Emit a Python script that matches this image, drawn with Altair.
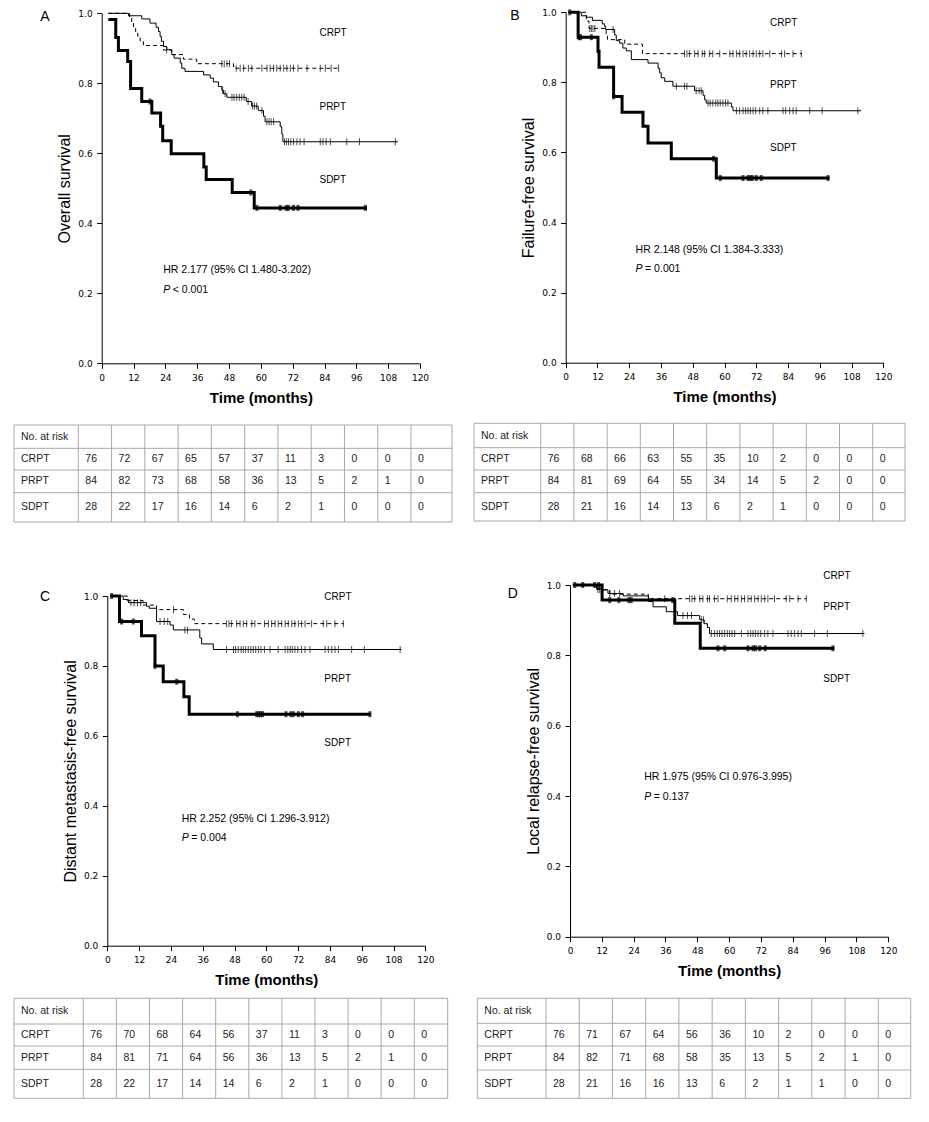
import altair as alt
import pandas as pd

# ------------------------------------------------------------------ data
XT = list(range(0, 121, 12))
YT = [0.0, 0.2, 0.4, 0.6, 0.8, 1.0]
GROUPS = ["CRPT", "PRPT", "SDPT"]
RISK_HEADER = "No. at risk"

# Panel A - Overall survival  (month, survival)
A_CRPT = [(2.5, 1.0), (10.5, 0.987), (11.3, 0.974), (12.0, 0.961), (12.8, 0.947), (13.6, 0.934),
          (14.5, 0.921), (15.7, 0.908), (23.3, 0.895), (26.4, 0.882), (30.8, 0.869), (35.8, 0.856),
          (49.7, 0.843), (89.3, 0.843)]
A_PRPT = [(2.5, 1.0), (10.1, 0.993), (15.1, 0.984), (18.2, 0.972), (20.5, 0.960), (21.4, 0.948),
          (22.0, 0.934), (22.5, 0.920), (23.3, 0.905), (24.5, 0.896), (26.4, 0.882), (27.3, 0.872),
          (29.6, 0.858), (30.2, 0.843), (31.4, 0.834), (38.4, 0.824), (40.9, 0.815), (42.1, 0.804),
          (44.0, 0.791), (45.3, 0.780), (45.9, 0.770), (47.2, 0.760), (54.5, 0.748), (56.5, 0.735),
          (59.0, 0.722), (61.0, 0.706), (61.6, 0.690), (67.3, 0.676), (67.9, 0.655), (68.3, 0.633),
          (111.6, 0.633)]
A_SDPT = [(2.5, 0.982), (5.3, 0.931), (6.3, 0.894), (9.8, 0.862), (10.9, 0.785), (15.1, 0.748),
          (18.9, 0.715), (22.2, 0.677), (23.0, 0.636), (26.2, 0.599), (38.5, 0.561), (39.4, 0.525),
          (49.2, 0.488), (57.5, 0.444), (100.0, 0.444)]
A_CRPT_CENS = [(24.5, 0.895), (45.3, 0.856), (46.2, 0.856), (47.2, 0.856), (48.2, 0.856),
               (50.7, 0.843), (52.2, 0.843), (53.5, 0.843), (55.3, 0.843), (56.6, 0.843), (60.4, 0.843),
               (62.3, 0.843), (63.5, 0.843), (64.8, 0.843), (66.0, 0.843), (67.3, 0.843), (68.6, 0.843),
               (69.8, 0.843), (71.1, 0.843), (72.3, 0.843), (74.0, 0.843), (77.4, 0.843), (82.4, 0.843),
               (84.3, 0.843), (86.5, 0.843), (89.3, 0.843)]
A_PRPT_CENS = [(45.6, 0.780), (46.5, 0.770), (49.1, 0.760), (49.9, 0.760), (50.9, 0.760), (51.9, 0.760),
               (52.8, 0.760), (53.7, 0.760), (55.2, 0.748), (56.9, 0.735), (57.6, 0.735), (58.4, 0.735),
               (60.4, 0.722), (62.3, 0.690), (63.1, 0.690), (63.9, 0.690), (64.8, 0.690), (68.9, 0.633),
               (69.6, 0.633), (70.4, 0.633), (71.3, 0.633), (72.3, 0.633), (73.6, 0.633), (74.8, 0.633),
               (76.3, 0.633), (82.4, 0.633), (83.4, 0.633), (84.6, 0.633), (86.2, 0.633), (92.4, 0.633),
               (97.2, 0.633), (110.7, 0.633)]
A_SDPT_CENS = [(18.2, 0.748), (56.2, 0.488), (58.5, 0.444), (67.3, 0.444), (69.6, 0.444), (70.4, 0.444),
               (72.3, 0.444), (74.0, 0.444), (99.4, 0.444)]

# Panel B - Failure-free survival
B_CRPT = [(0.9, 1.0), (7.8, 0.975), (8.8, 0.954), (15.3, 0.935), (15.8, 0.922), (22.3, 0.909),
          (29.0, 0.882), (89.2, 0.882)]
B_PRPT = [(0.9, 1.0), (5.9, 0.990), (7.8, 0.986), (10.1, 0.977), (13.8, 0.967), (14.7, 0.960),
          (15.1, 0.951), (18.5, 0.935), (19.1, 0.919), (20.4, 0.912), (21.6, 0.898), (22.9, 0.890),
          (24.8, 0.865), (31.1, 0.855), (34.9, 0.840), (35.5, 0.827), (36.1, 0.813), (37.4, 0.803),
          (40.5, 0.789), (48.7, 0.776), (51.9, 0.763), (52.5, 0.750), (53.1, 0.741), (62.6, 0.730),
          (63.2, 0.719), (111.6, 0.719)]
B_SDPT = [(1.5, 1.0), (4.7, 0.929), (12.2, 0.889), (12.6, 0.843), (18.1, 0.760), (21.3, 0.715),
          (29.2, 0.675), (31.1, 0.627), (39.9, 0.582), (56.9, 0.527), (99.7, 0.527)]
B_CRPT_CENS = [(9.1, 0.954), (9.7, 0.954), (10.3, 0.954), (11.0, 0.954), (44.9, 0.882), (45.8, 0.882),
               (46.8, 0.882), (48.7, 0.882), (50.0, 0.882), (51.6, 0.882), (52.5, 0.882), (54.4, 0.882),
               (55.6, 0.882), (58.2, 0.882), (62.0, 0.882), (63.2, 0.882), (64.5, 0.882), (65.7, 0.882),
               (67.0, 0.882), (68.2, 0.882), (69.5, 0.882), (70.8, 0.882), (72.0, 0.882), (73.3, 0.882),
               (74.5, 0.882), (77.1, 0.882), (81.5, 0.882), (82.7, 0.882), (85.9, 0.882), (89.0, 0.882)]
B_PRPT_CENS = [(17.9, 0.951), (41.8, 0.789), (44.9, 0.789), (45.8, 0.789), (49.3, 0.776), (50.4, 0.776),
               (51.2, 0.776), (53.8, 0.741), (54.6, 0.741), (55.6, 0.741), (56.7, 0.741), (57.5, 0.741),
               (58.4, 0.741), (59.4, 0.741), (60.4, 0.741), (61.3, 0.741), (64.5, 0.719), (65.7, 0.719),
               (67.0, 0.719), (68.0, 0.719), (68.9, 0.719), (69.8, 0.719), (70.8, 0.719), (71.8, 0.719),
               (73.3, 0.719), (74.5, 0.719), (76.4, 0.719), (82.1, 0.719), (83.1, 0.719), (84.6, 0.719),
               (85.9, 0.719), (87.1, 0.719), (92.2, 0.719), (96.9, 0.719), (110.4, 0.719)]
B_SDPT_CENS = [(1.5, 1.0), (5.0, 0.929), (5.6, 0.929), (9.7, 0.929), (18.1, 0.760), (55.9, 0.582),
               (58.4, 0.527), (67.0, 0.527), (68.9, 0.527), (69.7, 0.527), (70.5, 0.527), (72.0, 0.527),
               (73.9, 0.527), (99.1, 0.527)]

# Panel C - Distant metastasis-free survival
C_CRPT = [(1.0, 1.0), (7.5, 0.987), (13.5, 0.974), (18.6, 0.961), (28.7, 0.947), (31.0, 0.934),
          (32.9, 0.921), (89.1, 0.921)]
C_PRPT = [(1.0, 1.0), (6.0, 0.990), (8.0, 0.981), (14.8, 0.971), (15.8, 0.965), (18.6, 0.927),
          (23.7, 0.917), (24.9, 0.903), (34.9, 0.880), (35.6, 0.863), (40.0, 0.847), (111.0, 0.847)]
C_SDPT = [(1.6, 1.0), (4.6, 0.927), (12.9, 0.886), (18.0, 0.800), (21.1, 0.755), (28.9, 0.712),
          (30.9, 0.662), (99.4, 0.662)]
C_CRPT_CENS = [(25.0, 0.961), (45.0, 0.921), (45.9, 0.921), (46.9, 0.921), (48.8, 0.921), (50.1, 0.921),
               (51.3, 0.921), (52.6, 0.921), (54.5, 0.921), (55.7, 0.921), (59.3, 0.921), (60.8, 0.921),
               (62.0, 0.921), (63.3, 0.921), (64.5, 0.921), (65.8, 0.921), (67.1, 0.921), (68.3, 0.921),
               (69.6, 0.921), (70.8, 0.921), (72.1, 0.921), (73.3, 0.921), (74.6, 0.921), (77.1, 0.921),
               (81.5, 0.921), (82.8, 0.921), (85.9, 0.921), (89.1, 0.921)]
C_PRPT_CENS = [(8.9, 0.981), (10.1, 0.981), (11.4, 0.981), (12.6, 0.981), (19.9, 0.927), (21.5, 0.927),
               (22.8, 0.927), (29.3, 0.903), (30.3, 0.903), (45.0, 0.847), (47.6, 0.847), (48.4, 0.847),
               (49.4, 0.847), (50.5, 0.847), (51.3, 0.847), (52.2, 0.847), (53.2, 0.847), (54.2, 0.847),
               (55.1, 0.847), (56.0, 0.847), (57.0, 0.847), (58.0, 0.847), (59.3, 0.847), (61.4, 0.847),
               (64.5, 0.847), (67.1, 0.847), (68.1, 0.847), (69.0, 0.847), (69.8, 0.847), (70.8, 0.847),
               (71.9, 0.847), (73.3, 0.847), (74.6, 0.847), (76.5, 0.847), (82.2, 0.847), (83.4, 0.847),
               (84.7, 0.847), (85.9, 0.847), (87.2, 0.847), (92.2, 0.847), (97.0, 0.847), (110.5, 0.847)]
C_SDPT_CENS = [(1.6, 1.0), (5.4, 0.927), (9.8, 0.927), (18.0, 0.800), (26.2, 0.755), (49.1, 0.662),
               (56.4, 0.662), (57.1, 0.662), (57.8, 0.662), (58.6, 0.662), (67.4, 0.662), (69.3, 0.662),
               (70.2, 0.662), (72.1, 0.662), (73.7, 0.662), (99.1, 0.662)]

# Panel D - Local relapse-free survival
D_CRPT = [(1.1, 1.0), (10.0, 0.987), (15.0, 0.974), (29.5, 0.961), (89.1, 0.961)]
D_PRPT = [(1.1, 1.0), (10.0, 0.990), (12.3, 0.986), (14.3, 0.976), (20.0, 0.969), (29.6, 0.953),
          (31.3, 0.938), (36.3, 0.924), (40.5, 0.913), (48.9, 0.901), (50.6, 0.890), (51.8, 0.879),
          (52.6, 0.862), (111.0, 0.862)]
D_SDPT = [(1.1, 1.0), (12.1, 0.957), (39.5, 0.891), (49.1, 0.820), (99.7, 0.820)]
D_CRPT_CENS = [(10.5, 0.987), (11.2, 0.987), (35.7, 0.961), (45.1, 0.961), (46.0, 0.961), (47.0, 0.961),
               (48.9, 0.961), (50.1, 0.961), (51.8, 0.961), (52.6, 0.961), (54.5, 0.961), (55.8, 0.961),
               (59.3, 0.961), (60.8, 0.961), (62.1, 0.961), (63.3, 0.961), (64.6, 0.961), (65.8, 0.961),
               (67.1, 0.961), (68.3, 0.961), (69.6, 0.961), (70.9, 0.961), (72.1, 0.961), (73.4, 0.961),
               (74.6, 0.961), (77.1, 0.961), (81.5, 0.961), (82.8, 0.961), (86.0, 0.961), (89.1, 0.961)]
D_PRPT_CENS = [(15.0, 0.976), (16.8, 0.976), (18.7, 0.976), (42.6, 0.913), (44.3, 0.913), (45.8, 0.913),
               (49.5, 0.901), (50.3, 0.901), (53.3, 0.862), (54.5, 0.862), (55.5, 0.862), (56.4, 0.862),
               (57.3, 0.862), (58.3, 0.862), (59.3, 0.862), (60.2, 0.862), (61.1, 0.862), (62.1, 0.862),
               (64.6, 0.862), (67.1, 0.862), (68.1, 0.862), (69.0, 0.862), (69.9, 0.862), (70.9, 0.862),
               (71.9, 0.862), (73.4, 0.862), (74.6, 0.862), (76.5, 0.862), (82.2, 0.862), (83.4, 0.862),
               (84.7, 0.862), (86.0, 0.862), (87.2, 0.862), (92.2, 0.862), (97.0, 0.862), (110.4, 0.862)]
D_SDPT_CENS = [(1.8, 1.0), (4.8, 1.0), (9.3, 1.0), (10.8, 1.0), (15.0, 0.957), (18.4, 0.957), (22.2, 0.957),
               (23.1, 0.957), (38.8, 0.957), (55.8, 0.82), (58.3, 0.82), (67.1, 0.82), (69.0, 0.82),
               (69.9, 0.82), (71.5, 0.82), (73.6, 0.82), (99.1, 0.82)]

# Numbers at risk (0, 12, ..., 120 months)
A_RISK_CRPT = [76, 72, 67, 65, 57, 37, 11, 3, 0, 0, 0]
A_RISK_PRPT = [84, 82, 73, 68, 58, 36, 13, 5, 2, 1, 0]
A_RISK_SDPT = [28, 22, 17, 16, 14, 6, 2, 1, 0, 0, 0]
B_RISK_CRPT = [76, 68, 66, 63, 55, 35, 10, 2, 0, 0, 0]
B_RISK_PRPT = [84, 81, 69, 64, 55, 34, 14, 5, 2, 0, 0]
B_RISK_SDPT = [28, 21, 16, 14, 13, 6, 2, 1, 0, 0, 0]
C_RISK_CRPT = [76, 70, 68, 64, 56, 37, 11, 3, 0, 0, 0]
C_RISK_PRPT = [84, 81, 71, 64, 56, 36, 13, 5, 2, 1, 0]
C_RISK_SDPT = [28, 22, 17, 14, 14, 6, 2, 1, 0, 0, 0]
D_RISK_CRPT = [76, 71, 67, 64, 56, 36, 10, 2, 0, 0, 0]
D_RISK_PRPT = [84, 82, 71, 68, 58, 35, 13, 5, 2, 1, 0]
D_RISK_SDPT = [28, 21, 16, 16, 13, 6, 2, 1, 1, 0, 0]

# Titles / annotations text
Y_TITLES = {"A": "Overall survival", "B": "Failure-free survival",
            "C": "Distant metastasis-free survival", "D": "Local relapse-free survival"}
HR_TEXT = {"A": "HR 2.177 (95% CI 1.480-3.202)", "B": "HR 2.148 (95% CI 1.384-3.333)",
           "C": "HR 2.252 (95% CI 1.296-3.912)", "D": "HR 1.975 (95% CI 0.976-3.995)"}
P_TEXT = {"A": "< 0.001", "B": "= 0.001", "C": "= 0.004", "D": "= 0.137"}

# ------------------------------------------------------------------ layout (pixels / anchors)
W, H = 913, 1106
FONT = "Liberation Sans"
TICKFONT = "DejaVu Sans"
FRAMES = {
    "A": dict(x0=93.7, x1=412.0, y0=355.3, y1=5.3),
    "B": dict(x0=557.7, x1=875.3, y0=354.7, y1=4.3),
    "C": dict(x0=99.3, x1=417.3, y0=937.7, y1=588.0),
    "D": dict(x0=562.0, x1=880.3, y0=928.7, y1=577.0),
}
NOTE_POS = {
    "A": dict(lab_x=82.1, lab_y=[0.943, 0.733, 0.524], hr=(23.2, 0.267), p=(23.2, 0.209), letter=(-21.4, 0.989)),
    "B": dict(lab_x=77.2, lab_y=[0.970, 0.793, 0.614], hr=(26.4, 0.322), p=(26.4, 0.267), letter=(-19.2, 0.990)),
    "C": dict(lab_x=81.9, lab_y=[0.998, 0.762, 0.581], hr=(28.1, 0.361), p=(28.1, 0.307), letter=(-23.5, 0.998)),
    "D": dict(lab_x=95.5, lab_y=[1.026, 0.938, 0.732], hr=(28.0, 0.453), p=(28.0, 0.398), letter=(-21.6, 0.974)),
}
TABLES = {
    "A": dict(x=[6, 70.3, 403.0, 444.0], y=[417.0, 440.3, 462.0, 484.7, 514.0]),
    "B": dict(x=[466.0, 532.7, 864.7, 897.0], y=[415.3, 439.7, 462.0, 484.7, 513.0]),
    "C": dict(x=[6, 75.3, 406.3, 439.7], y=[990.3, 1016.0, 1038.0, 1061.3, 1090.3]),
    "D": dict(x=[469.3, 538.0, 870.3, 902.7], y=[990.3, 1015.3, 1038.0, 1062.0, 1090.3]),
}

CURVES = {
    "A": ({"CRPT": A_CRPT, "PRPT": A_PRPT, "SDPT": A_SDPT},
          {"CRPT": A_CRPT_CENS, "PRPT": A_PRPT_CENS, "SDPT": A_SDPT_CENS}),
    "B": ({"CRPT": B_CRPT, "PRPT": B_PRPT, "SDPT": B_SDPT},
          {"CRPT": B_CRPT_CENS, "PRPT": B_PRPT_CENS, "SDPT": B_SDPT_CENS}),
    "C": ({"CRPT": C_CRPT, "PRPT": C_PRPT, "SDPT": C_SDPT},
          {"CRPT": C_CRPT_CENS, "PRPT": C_PRPT_CENS, "SDPT": C_SDPT_CENS}),
    "D": ({"CRPT": D_CRPT, "PRPT": D_PRPT, "SDPT": D_SDPT},
          {"CRPT": D_CRPT_CENS, "PRPT": D_PRPT_CENS, "SDPT": D_SDPT_CENS}),
}
RISKS = {
    "A": [A_RISK_CRPT, A_RISK_PRPT, A_RISK_SDPT],
    "B": [B_RISK_CRPT, B_RISK_PRPT, B_RISK_SDPT],
    "C": [C_RISK_CRPT, C_RISK_PRPT, C_RISK_SDPT],
    "D": [D_RISK_CRPT, D_RISK_PRPT, D_RISK_SDPT],
}

LINE_STYLE = {"CRPT": dict(strokeWidth=1, strokeDash=[4, 3]),
              "PRPT": dict(strokeWidth=1),
              "SDPT": dict(strokeWidth=3)}
CENS_STYLE = {"CRPT": dict(thickness=1, size=7), "PRPT": dict(thickness=1, size=7),
              "SDPT": dict(thickness=3, size=6)}


def df_pts(points):
    return pd.DataFrame(points, columns=["t", "s"])


def panel_units(key):
    fr = FRAMES[key]
    curves, cens = CURVES[key]
    npos = NOTE_POS[key]

    def xs():
        return alt.Scale(domain=[0, 120], range=[fr["x0"], fr["x1"]], nice=False, zero=False)

    def ys():
        return alt.Scale(domain=[0, 1], range=[fr["y0"], fr["y1"]], nice=False, zero=False)

    common = dict(grid=False, domainColor="black", tickColor="black", tickSize=5, tickWidth=1,
                  domainWidth=1, labelFont=TICKFONT, labelFontSize=9, labelColor="black",
                  titleFont=FONT, titleColor="black")
    xax = alt.Axis(orient="bottom", offset=fr["y0"] - H, values=XT, format="d", labelPadding=5,
                   labelFlush=False, title="Time (months)", titleFontSize=15, titleFontWeight="bold",
                   titlePadding=8, **common)
    yax = alt.Axis(orient="left", offset=-fr["x0"], values=YT, format=".1f", labelPadding=4.5,
                   labelFlush=False, title=Y_TITLES[key], titleFontSize=16, titleFontWeight="normal",
                   titlePadding=5, **common)

    def enc(ch, x_axis=None, y_axis=None):
        return ch.encode(x=alt.X("t:Q", scale=xs(), axis=x_axis), y=alt.Y("s:Q", scale=ys(), axis=y_axis))

    units = []
    for i, g in enumerate(GROUPS):
        ch = alt.Chart(df_pts(curves[g])).mark_line(interpolate="step-after", color="black", **LINE_STYLE[g])
        if i == 0:
            units.append(enc(ch, xax, yax))
        else:
            units.append(enc(ch))
    for g in GROUPS:
        units.append(enc(alt.Chart(df_pts(cens[g])).mark_tick(orient="vertical", color="black",
                                                              **CENS_STYLE[g])))
    lab_df = pd.DataFrame({"t": [npos["lab_x"]] * 3, "s": npos["lab_y"], "label": GROUPS})
    units.append(enc(alt.Chart(lab_df).mark_text(align="left", baseline="middle", font=FONT, fontSize=10,
                                                 color="black")).encode(text="label:N"))
    hr_df = pd.DataFrame({"t": [npos["hr"][0]], "s": [npos["hr"][1]], "label": [HR_TEXT[key]]})
    units.append(enc(alt.Chart(hr_df).mark_text(align="left", baseline="middle", font=FONT, fontSize=10.5,
                                                color="black")).encode(text="label:N"))
    p_df = pd.DataFrame({"t": [npos["p"][0]], "s": [npos["p"][1]], "label": ["P"], "rest": [P_TEXT[key]]})
    units.append(enc(alt.Chart(p_df).mark_text(align="left", baseline="middle", font=FONT, fontSize=10.5,
                                               fontStyle="italic", color="black")).encode(text="label:N"))
    units.append(enc(alt.Chart(p_df).mark_text(align="left", baseline="middle", font=FONT, fontSize=10.5,
                                               dx=9.5, color="black")).encode(text="rest:N"))
    let_df = pd.DataFrame({"t": [npos["letter"][0]], "s": [npos["letter"][1]], "label": [key]})
    units.append(enc(alt.Chart(let_df).mark_text(align="center", baseline="middle", font=FONT, fontSize=14,
                                                 color="black")).encode(text="label:N"))
    return units


def table_units(key):
    tb = TABLES[key]
    ncol = len(XT)

    def xs():
        return alt.Scale(domain=[0, 1, ncol, ncol + 1], range=tb["x"], nice=False, zero=False)

    def ys():
        return alt.Scale(domain=[0, 1, 2, 3, 4], range=tb["y"], nice=False, zero=False)

    ncols_total = ncol + 1
    vlines = pd.DataFrame({"c": list(range(ncols_total + 1)), "r0": 0, "r1": 4})
    hlines = pd.DataFrame({"r": list(range(5)), "c0": 0, "c1": ncols_total})
    cells = [{"c": 0, "r": 0.5, "txt": RISK_HEADER}]
    for gi, g in enumerate(GROUPS):
        cells.append({"c": 0, "r": gi + 1.5, "txt": g})
        for j, v in enumerate(RISKS[key][gi]):
            cells.append({"c": j + 1, "r": gi + 1.5, "txt": str(v)})
    cells = pd.DataFrame(cells)
    grid_color = "#a8a8a8"
    v = alt.Chart(vlines).mark_rule(color=grid_color, strokeWidth=1).encode(
        x=alt.X("c:Q", scale=xs(), axis=None), y=alt.Y("r0:Q", scale=ys(), axis=None), y2="r1:Q")
    h = alt.Chart(hlines).mark_rule(color=grid_color, strokeWidth=1).encode(
        y=alt.Y("r:Q", scale=ys(), axis=None), x=alt.X("c0:Q", scale=xs(), axis=None), x2="c1:Q")
    t = alt.Chart(cells).mark_text(align="left", baseline="middle", dx=7, font=FONT, fontSize=10.5,
                                   color="#222222").encode(
        x=alt.X("c:Q", scale=xs(), axis=None), y=alt.Y("r:Q", scale=ys(), axis=None), text="txt:N")
    return [v, h, t]


units = []
for k in "ABCD":
    units += panel_units(k)
for k in "ABCD":
    units += table_units(k)

chart = (
    alt.layer(*units)
    .resolve_scale(x="independent", y="independent")
    .properties(width=W, height=H, autosize=alt.AutoSizeParams(type="none"), padding=0)
    .configure_view(stroke=None)
)
chart.save("out.html", embed_options={"renderer": "svg", "actions": False})
